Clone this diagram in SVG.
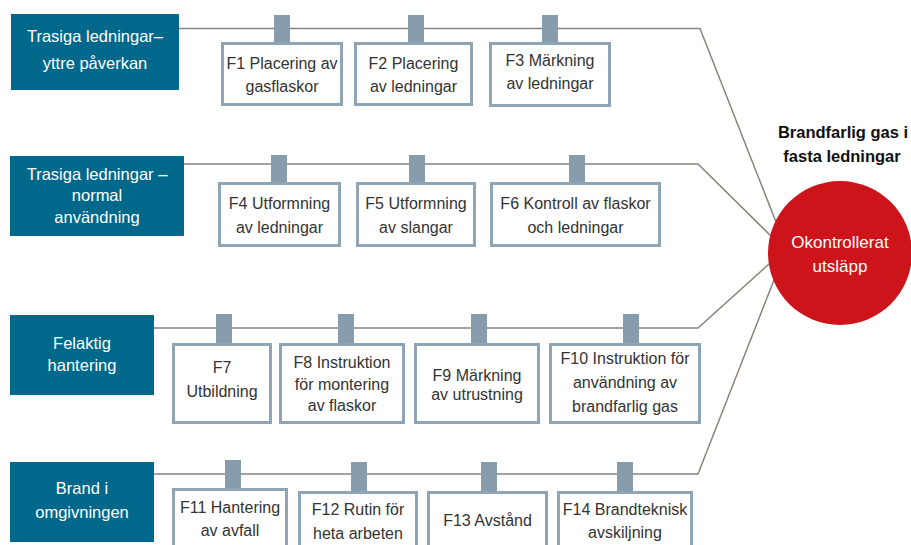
<svg xmlns="http://www.w3.org/2000/svg" width="911" height="545" viewBox="0 0 911 545">
<style>
.cat{fill:#00688b}
.catt{fill:#ffffff;font-family:"Liberation Sans",Arial,sans-serif;font-size:16.5px;text-anchor:middle}
.tab{fill:#879dae}
.box{fill:#ffffff;stroke:#8fa5b5;stroke-width:3}
.bt{fill:#333333;font-family:"Liberation Sans",Arial,sans-serif;font-size:16px;text-anchor:middle}
.con{fill:none;stroke:#8a827c;stroke-width:1.5}
.title{fill:#111111;font-family:"Liberation Sans",Arial,sans-serif;font-size:16.5px;font-weight:bold;text-anchor:middle}
.ct{fill:#ffffff;font-family:"Liberation Sans",Arial,sans-serif;font-size:17px;text-anchor:middle}
</style>
<rect width="911" height="545" fill="#ffffff"/>
<g id="connectors">
<path class="con" d="M179,28.5 H700 L776,222"/>
<path class="con" d="M184,164 H698 L772,237"/>
<path class="con" d="M154,328 H698 L769,264"/>
<path class="con" d="M154,474 H698 L774,280"/>
</g>
<g id="cat1"><rect class="cat" x="11" y="14" width="168" height="76"/><text class="catt" x="95" y="42">Trasiga ledningar–</text><text class="catt" x="95" y="69">yttre påverkan</text></g>
<g id="cat2"><rect class="cat" x="10" y="156" width="174" height="80"/><text class="catt" x="97" y="180">Trasiga ledningar –</text><text class="catt" x="97" y="201">normal</text><text class="catt" x="97" y="223">användning</text></g>
<g id="cat3"><rect class="cat" x="10" y="315" width="144" height="80"/><text class="catt" x="82" y="349">Felaktig</text><text class="catt" x="82" y="371">hantering</text></g>
<g id="cat4"><rect class="cat" x="10" y="462" width="144" height="80"/><text class="catt" x="82" y="494">Brand i</text><text class="catt" x="82" y="518">omgivningen</text></g>

<g id="F1"><rect class="tab" x="274" y="15" width="16" height="28"/><rect class="box" x="222.5" y="43.5" width="119" height="61"/><text class="bt" x="282" y="69">F1 Placering av</text><text class="bt" x="282" y="92">gasflaskor</text></g>
<g id="F2"><rect class="tab" x="408" y="15" width="16" height="28"/><rect class="box" x="355.5" y="43.5" width="116" height="61"/><text class="bt" x="413.5" y="69">F2 Placering</text><text class="bt" x="413.5" y="92">av ledningar</text></g>
<g id="F3"><rect class="tab" x="542" y="15" width="16" height="28"/><rect class="box" x="490.5" y="43.5" width="119" height="62"/><text class="bt" x="550" y="66">F3 Märkning</text><text class="bt" x="550" y="89">av ledningar</text></g>

<g id="F4"><rect class="tab" x="271" y="155" width="16" height="28"/><rect class="box" x="219.5" y="183.5" width="120" height="62"/><text class="bt" x="279.5" y="209">F4 Utformning</text><text class="bt" x="279.5" y="233">av ledningar</text></g>
<g id="F5"><rect class="tab" x="409" y="155" width="16" height="28"/><rect class="box" x="357.5" y="183.5" width="117" height="62"/><text class="bt" x="416" y="209">F5 Utformning</text><text class="bt" x="416" y="233">av slangar</text></g>
<g id="F6"><rect class="tab" x="569" y="155" width="16" height="28"/><rect class="box" x="491.5" y="183.5" width="168" height="62"/><text class="bt" x="575.5" y="209">F6 Kontroll av flaskor</text><text class="bt" x="575.5" y="233">och ledningar</text></g>

<g id="F7"><rect class="tab" x="216" y="314" width="16" height="29"/><rect class="box" x="173.5" y="344.5" width="97" height="78"/><text class="bt" x="222" y="373">F7</text><text class="bt" x="222" y="397">Utbildning</text></g>
<g id="F8"><rect class="tab" x="338" y="314" width="16" height="29"/><rect class="box" x="280.5" y="344.5" width="123" height="78"/><text class="bt" x="342" y="368">F8 Instruktion</text><text class="bt" x="342" y="390">för montering</text><text class="bt" x="342" y="411">av flaskor</text></g>
<g id="F9"><rect class="tab" x="471" y="314" width="16" height="29"/><rect class="box" x="415.5" y="344.5" width="123" height="78"/><text class="bt" x="477" y="381">F9 Märkning</text><text class="bt" x="477" y="400">av utrustning</text></g>
<g id="F10"><rect class="tab" x="623" y="314" width="16" height="29"/><rect class="box" x="550.5" y="344.5" width="149" height="78"/><text class="bt" x="625" y="364">F10 Instruktion för</text><text class="bt" x="625" y="388">användning av</text><text class="bt" x="625" y="412">brandfarlig gas</text></g>

<g id="F11"><rect class="tab" x="225" y="460" width="16" height="29"/><rect class="box" x="173.5" y="489.5" width="113" height="70"/><text class="bt" x="230" y="513">F11 Hantering</text><text class="bt" x="230" y="536">av avfall</text></g>
<g id="F12"><rect class="tab" x="351" y="462" width="16" height="29"/><rect class="box" x="299.5" y="492.5" width="117" height="70"/><text class="bt" x="358" y="515">F12 Rutin för</text><text class="bt" x="358" y="539">heta arbeten</text></g>
<g id="F13"><rect class="tab" x="481" y="462" width="16" height="29"/><rect class="box" x="428.5" y="492.5" width="118" height="70"/><text class="bt" x="487.5" y="526">F13 Avstånd</text></g>
<g id="F14"><rect class="tab" x="617" y="462" width="16" height="29"/><rect class="box" x="558.5" y="492.5" width="133" height="70"/><text class="bt" x="625" y="515">F14 Brandteknisk</text><text class="bt" x="625" y="538">avskiljning</text></g>

<g id="title"><text class="title" x="843" y="138">Brandfarlig gas i</text><text class="title" x="842" y="162">fasta ledningar</text></g>
<g id="event"><circle cx="840" cy="253" r="72" fill="#cc141a"/><text class="ct" x="840" y="248">Okontrollerat</text><text class="ct" x="840" y="272">utsläpp</text></g>
</svg>
